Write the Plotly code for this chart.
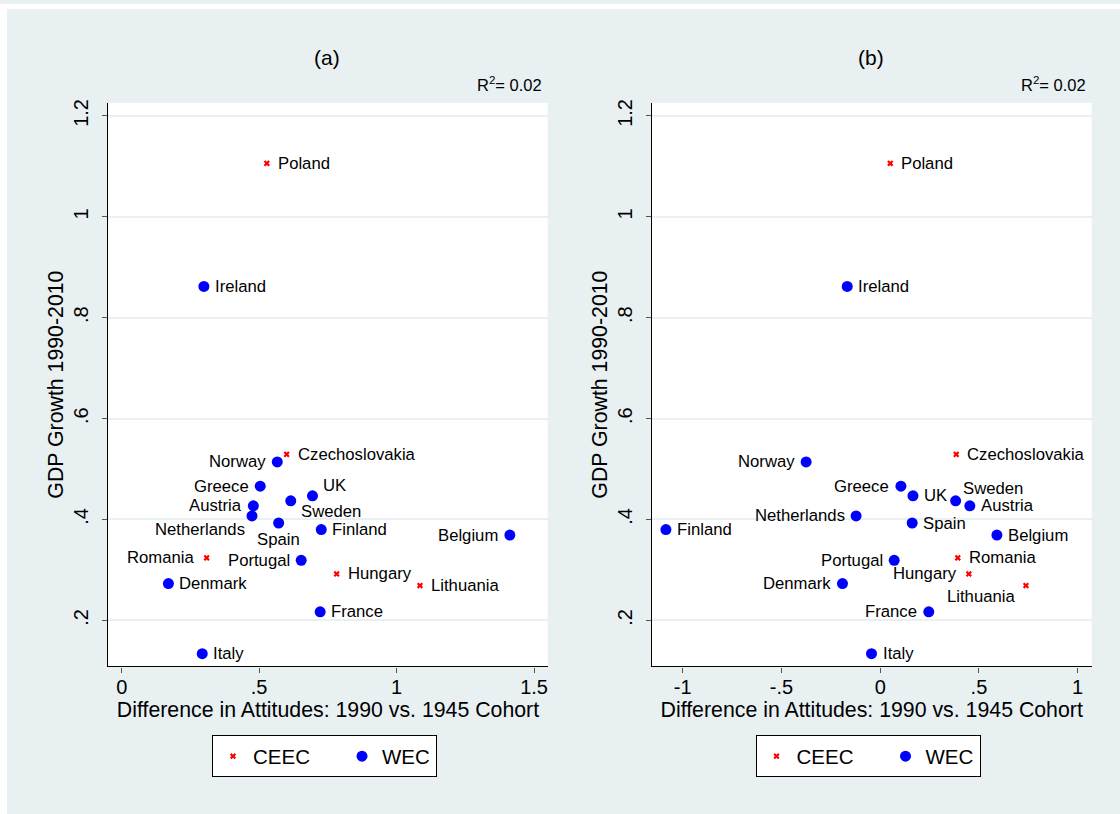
import plotly.graph_objects as go

# ---------------- data ----------------
countries = ["Poland", "Ireland", "Czechoslovakia", "Norway", "Greece", "UK", "Sweden",
             "Austria", "Netherlands", "Spain", "Finland", "Belgium", "Romania", "Portugal",
             "Hungary", "Denmark", "Lithuania", "France", "Italy"]
group = ["CEEC", "WEC", "CEEC", "WEC", "WEC", "WEC", "WEC",
         "WEC", "WEC", "WEC", "WEC", "WEC", "CEEC", "WEC",
         "CEEC", "WEC", "CEEC", "WEC", "WEC"]
gdp_growth = [1.106, 0.862, 0.529, 0.514, 0.466, 0.447, 0.437,
              0.427, 0.407, 0.393, 0.380, 0.369, 0.324, 0.319,
              0.292, 0.273, 0.269, 0.217, 0.134]
diff_a = [0.528, 0.299, 0.600, 0.566, 0.504, 0.694, 0.615,
          0.479, 0.474, 0.571, 0.726, 1.412, 0.309, 0.653,
          0.782, 0.170, 1.085, 0.722, 0.293]
diff_b = [0.051, -0.167, 0.385, -0.375, 0.105, 0.166, 0.382,
          0.454, -0.122, 0.162, -1.085, 0.591, 0.393, 0.071,
          0.449, -0.191, 0.738, 0.246, -0.044]
# label positions (clock-like codes)
pos_a = ["r", "r", "r", "l", "l", "tr", "br",
         "l", "bl", "b", "r", "l", "l", "l",
         "r", "r", "r", "r", "r"]
pos_b = ["r", "r", "r", "l", "l", "r", "tr1",
         "r", "l", "r", "r", "r", "r", "l",
         "l", "l", "bl2", "l", "r"]

r2_text = "R<sup>2</sup>= 0.02"
panel_titles = ["(a)", "(b)"]
xticks_a = [0, 0.5, 1, 1.5]
xtick_text_a = ["0", ".5", "1", "1.5"]
xticks_b = [-1, -0.5, 0, 0.5, 1]
xtick_text_b = ["-1", "-.5", "0", ".5", "1"]
yticks = [0.2, 0.4, 0.6, 0.8, 1.0, 1.2]
ytick_text = [".2", ".4", ".6", ".8", "1", "1.2"]
xtitle = "Difference in Attitudes: 1990 vs. 1945 Cohort"
ytitle = "GDP Growth 1990-2010"

# ---------------- style ----------------
W, H = 1120, 814
BG = "#e9f0f2"
FONT = "Liberation Sans, Arial, sans-serif"
offsets = {  # xanchor, xshift, yshift
    "r": ("left", 9, 0),
    "l": ("right", -9.5, 0),
    "b": ("center", 0, -16),
    "br": ("left", 8, -11),
    "tr": ("left", 9, 10),
    "tr1": ("left", 5, 12.5),
    "bl": ("right", -5, -13.5),
    "bl2": ("right", -9, -11),
}
legend_widths = {"CEEC": 84, "WEC": 0}

def px_x(p):
    return p / W

def px_y(p):
    return (H - p) / H

fig = go.Figure()

marker_style = {
    "CEEC": dict(symbol="x", size=5.5, color="#ff0000", line=dict(width=0)),
    "WEC": dict(symbol="circle", size=11, color="#0000ff", line=dict(width=0)),
}

panels = [("x", "y", diff_a, pos_a, "legend"), ("x2", "y2", diff_b, pos_b, "legend2")]
annotations = []
for (xa, ya, xs, poss, lg) in panels:
    for g in ["CEEC", "WEC"]:
        idx = [i for i, gg in enumerate(group) if gg == g]
        fig.add_trace(go.Scatter(
            x=[xs[i] for i in idx], y=[gdp_growth[i] for i in idx],
            mode="markers", name=g, marker=marker_style[g],
            xaxis=xa, yaxis=ya, legend=lg, legendwidth=legend_widths[g],
            hovertext=[countries[i] for i in idx],
        ))
    for i, c in enumerate(countries):
        xan, xsh, ysh = offsets[poss[i]]
        annotations.append(dict(
            x=xs[i], y=gdp_growth[i], xref=xa, yref=ya, text=c, showarrow=False,
            xanchor=xan, yanchor="middle", xshift=xsh, yshift=ysh,
            font=dict(family=FONT, size=16.7, color="black"),
        ))

# panel geometry (pixels)
plot_top, plot_bot = 99.3, 665.7
xa_px = (108.3, 547.7)
xb_px = (651.7, 1091.7)
ydom = [px_y(plot_bot), px_y(plot_top)]

axis_common = dict(
    showline=True, linecolor="black", linewidth=1.2, ticks="outside", ticklen=5,
    tickcolor="#555555", tickwidth=1.2, zeroline=False,
    tickfont=dict(family=FONT, size=20, color="black"),
    title_font=dict(family=FONT, size=21.3, color="black"),
)
xaxis_extra = dict(showgrid=False, ticklabelstandoff=-3)
yaxis_extra = dict(tickangle=-90, showgrid=True, gridcolor=BG, gridwidth=1.5,
                   ticklabelstandoff=6, range=[0.1087, 1.226], tickvals=yticks,
                   ticktext=ytick_text, domain=ydom)

fig.update_layout(
    width=W, height=H, margin=dict(l=0, r=0, t=0, b=0),
    paper_bgcolor=BG, plot_bgcolor="white",
    font=dict(family=FONT, color="black"),
    showlegend=True,
    xaxis=dict(domain=[px_x(xa_px[0]), px_x(xa_px[1])], range=[-0.0487, 1.5497],
               tickvals=xticks_a, ticktext=xtick_text_a,
               title=dict(text=xtitle, standoff=2), anchor="y", **xaxis_extra, **axis_common),
    yaxis=dict(title=dict(text=ytitle, standoff=0), anchor="x", **yaxis_extra, **axis_common),
    xaxis2=dict(domain=[px_x(xb_px[0]), px_x(xb_px[1])], range=[-1.157, 1.071],
                tickvals=xticks_b, ticktext=xtick_text_b,
                title=dict(text=xtitle, standoff=2), anchor="y2", **xaxis_extra, **axis_common),
    yaxis2=dict(title=dict(text=ytitle, standoff=0), anchor="x2", **yaxis_extra, **axis_common),
    legend=dict(orientation="h", x=px_x(212), y=px_y(735), xanchor="left", yanchor="top",
                bgcolor="white", bordercolor="black", borderwidth=1,
                font=dict(family=FONT, size=20.5, color="black")),
    legend2=dict(orientation="h", x=px_x(755.5), y=px_y(735), xanchor="left", yanchor="top",
                 bgcolor="white", bordercolor="black", borderwidth=1,
                 font=dict(family=FONT, size=20.5, color="black")),
)

# panel titles and R^2
for k, (x0, x1) in enumerate([xa_px, xb_px]):
    annotations.append(dict(x=px_x((x0 + x1) / 2 - 1), y=px_y(54), xref="paper", yref="paper",
                            text=panel_titles[k], showarrow=False, xanchor="center",
                            yanchor="middle", font=dict(family=FONT, size=21, color="black")))
    annotations.append(dict(x=px_x(x1 - 3.5), y=px_y(80.5), xref="paper", yref="paper",
                            text=r2_text, showarrow=False, xanchor="right",
                            yanchor="middle", font=dict(family=FONT, size=16.5, color="black")))
fig.update_layout(annotations=annotations)

# white outer strips (left and top) as in the reference
fig.add_shape(type="rect", xref="paper", yref="paper", x0=0, x1=px_x(7), y0=0, y1=1,
              fillcolor="white", line=dict(width=0), layer="above")
fig.add_shape(type="rect", xref="paper", yref="paper", x0=0, x1=1, y0=px_y(5), y1=1,
              fillcolor="white", line=dict(width=0), layer="above")

fig.write_html("out.html")
